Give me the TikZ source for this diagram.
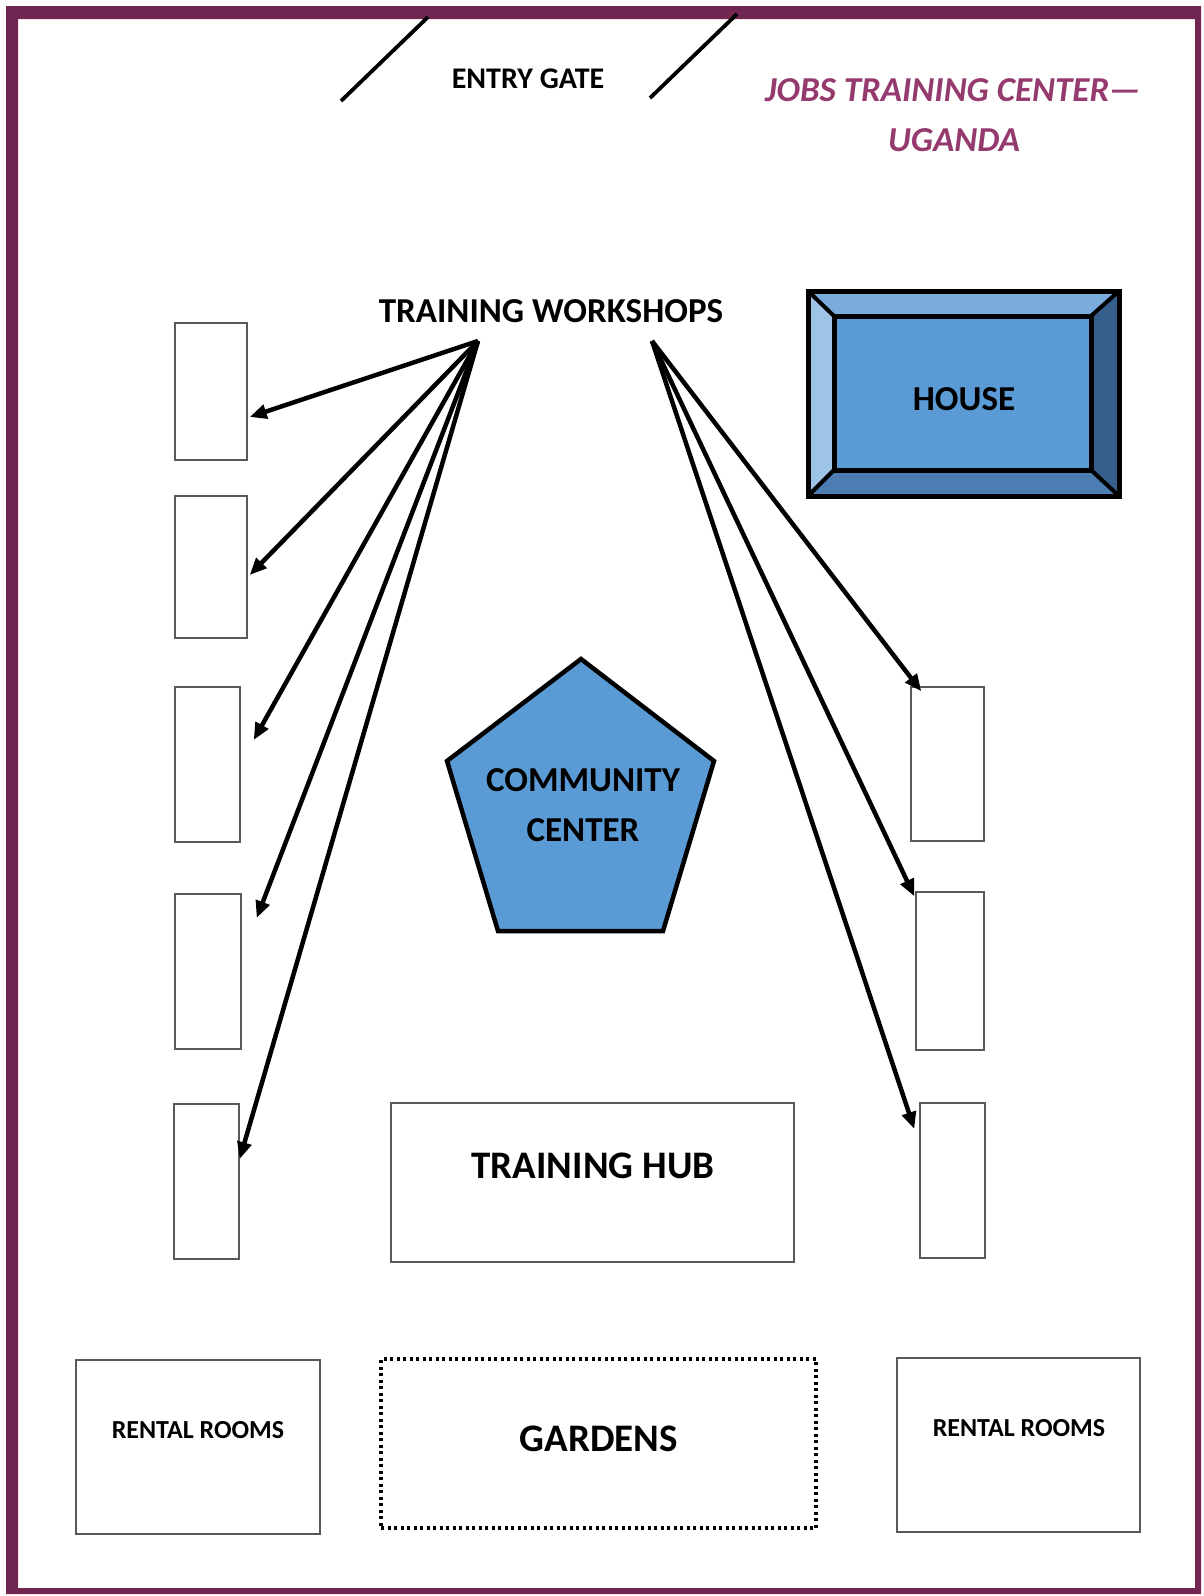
\documentclass[tikz,border=0pt]{standalone}
\usepackage{fontspec}
\setmainfont{Carlito}
\usetikzlibrary{arrows.meta}
\definecolor{frame}{RGB}{112,38,80}
\definecolor{titlec}{RGB}{149,58,110}
\definecolor{bluemain}{RGB}{91,155,213}
\definecolor{bluetop}{RGB}{122,171,221}
\definecolor{blueleft}{RGB}{157,195,230}
\definecolor{bluebot}{RGB}{75,125,178}
\definecolor{blueright}{RGB}{54,95,139}
\begin{document}
\begin{tikzpicture}[x=1pt,y=-1pt,
  room/.style={draw=black!65, line width=1.4pt, inner sep=0pt, fill=white},
  lbl/.style={font=\bfseries\fontsize{35}{40}\selectfont, text=black, inner sep=0pt},
  biglbl/.style={font=\bfseries\fontsize{39}{44}\selectfont, text=black, inner sep=0pt},
  smlbl/.style={font=\bfseries\fontsize{26}{30}\selectfont, text=black, inner sep=0pt},
  gatelbl/.style={font=\bfseries\fontsize{30}{34}\selectfont, text=black, inner sep=0pt},
  titlelbl/.style={font=\bfseries\itshape\fontsize{35}{40}\selectfont, text=titlec, inner sep=0pt},
  arr/.style={-{Triangle[length=17pt,width=14pt]}, line width=4.5pt, black},
  gateline/.style={line width=3.8pt, black},
  shapeline/.style={draw=black, line width=4.5pt, line join=miter}]
\useasboundingbox (0,0) rectangle (1203,1596);
\fill[white] (0,0) rectangle (1203,1596);
% frame
\fill[frame, even odd rule] (6,6) rectangle (1201,1594) (18,19) rectangle (1195,1588);

% entry gate
\coordinate (g1a) at (341,101);
\coordinate (g1b) at (428,17);
\coordinate (g2a) at (650,98);
\coordinate (g2b) at (737,14);
\draw[gateline] (g1a) -- (g1b);
\draw[gateline] (g2a) -- (g2b);
\node[gatelbl] (gate) at (528,79) {ENTRY GATE};

% title
\node[titlelbl] (title1) at (953,90) {JOBS TRAINING CENTER—};
\node[titlelbl] (title2) at (954,140) {UGANDA};

% house
\coordinate (ho1) at (808,291);
\coordinate (ho2) at (1119,291);
\coordinate (ho3) at (1119,496);
\coordinate (ho4) at (808,496);
\coordinate (hi1) at (834,316);
\coordinate (hi2) at (1091,316);
\coordinate (hi3) at (1091,470);
\coordinate (hi4) at (834,470);
\fill[bluetop] (ho1) -- (ho2) -- (hi2) -- (hi1) -- cycle;
\fill[blueright] (ho2) -- (ho3) -- (hi3) -- (hi2) -- cycle;
\fill[bluebot] (ho3) -- (ho4) -- (hi4) -- (hi3) -- cycle;
\fill[blueleft] (ho4) -- (ho1) -- (hi1) -- (hi4) -- cycle;
\fill[bluemain] (hi1) rectangle (hi3);
\draw[line width=4pt] (ho1) -- (hi1) (ho2) -- (hi2) (ho3) -- (hi3) (ho4) -- (hi4);
\draw[line width=5pt] (hi1) rectangle (hi3);
\draw[line width=5pt] (ho1) rectangle (ho3);
\node[lbl] (house) at (964,399) {HOUSE};

% training workshops label and arrow sources
\node[lbl] (tw) at (551,311) {TRAINING WORKSHOPS};
\coordinate (srcL) at (478,341);
\coordinate (srcR) at (652,341);

% left workshop boxes
\node[room, minimum width=72pt, minimum height=137pt] (L1) at (211,391.5) {};
\node[room, minimum width=72pt, minimum height=142pt] (L2) at (211,567) {};
\node[room, minimum width=65pt, minimum height=155pt] (L3) at (207.5,764.5) {};
\node[room, minimum width=66pt, minimum height=155pt] (L4) at (208,971.5) {};
\node[room, minimum width=65pt, minimum height=155pt] (L5) at (206.5,1181.5) {};
% right workshop boxes
\node[room, minimum width=73pt, minimum height=154pt] (R1) at (947.5,764) {};
\node[room, minimum width=68pt, minimum height=158pt] (R2) at (950,971) {};
\node[room, minimum width=65pt, minimum height=155pt] (R3) at (952.5,1180.5) {};

% arrows
\draw[arr] (srcL) -- ([xshift=2pt,yshift=-25.5pt]L1.east);
\draw[arr] (srcL) -- ([xshift=2pt,yshift=-8pt]L2.east);
\draw[arr] (srcL) -- ([xshift=13pt,yshift=24.5pt]L3.east);
\draw[arr] (srcL) -- ([xshift=15pt,yshift=53.5pt]L4.east);
\draw[arr] (srcL) -- ([xshift=0pt,yshift=22.5pt]L5.east);
\draw[arr] (srcR) -- ([xshift=11pt,yshift=-5pt]R1.north west);
\draw[arr] (srcR) -- ([xshift=-1pt,yshift=-5pt]R2.north west);
\draw[arr] (srcR) -- ([xshift=-5pt,yshift=51.5pt]R3.west);

% community center
\coordinate (p1) at (581,659);
\coordinate (p2) at (714,761);
\coordinate (p3) at (663,931);
\coordinate (p4) at (498,931);
\coordinate (p5) at (447,761);
\filldraw[fill=bluemain, shapeline] (p1) -- (p2) -- (p3) -- (p4) -- (p5) -- cycle;
\node[lbl] (cc1) at (583,780) {COMMUNITY};
\node[lbl] (cc2) at (583,830) {CENTER};

% training hub
\node[room, minimum width=403pt, minimum height=159pt] (hub) at (592.5,1182.5) {};
\node[biglbl] (hubt) at (593,1166) {TRAINING HUB};

% bottom row
\node[room, minimum width=244pt, minimum height=174pt] (rentL) at (198,1447) {};
\node[smlbl] (rentLt) at (198,1430) {RENTAL ROOMS};
\node[draw=black, line width=3.5pt, dash pattern=on 3pt off 3.5pt, inner sep=0pt, minimum width=435pt, minimum height=169pt] (gard) at (598.5,1443.5) {};
\node[biglbl] (gardt) at (599,1439) {GARDENS};
\node[room, minimum width=243pt, minimum height=174pt] (rentR) at (1018.5,1445) {};
\node[smlbl] (rentRt) at (1019,1428) {RENTAL ROOMS};
\end{tikzpicture}
\end{document}
